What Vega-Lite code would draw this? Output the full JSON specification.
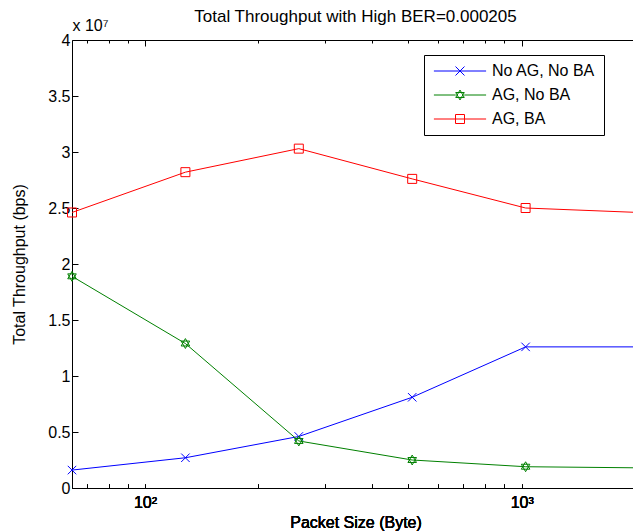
{
  "$schema": "https://vega.github.io/schema/vega-lite/v6.json",
  "width": 567,
  "height": 448,
  "autosize": {"type": "none"},
  "padding": {"left": 72, "top": 40, "right": 0, "bottom": 44},
  "background": "white",
  "config": {
    "font": "Liberation Sans",
    "view": {"stroke": null},
    "axis": {
      "domainColor": "black",
      "tickColor": "black",
      "labelColor": "black",
      "titleColor": "black",
      "labelFontSize": 16,
      "titleFontSize": 16,
      "titleFontWeight": "normal",
      "grid": false,
      "labelOverlap": false,
      "labelFlush": false
    },
    "legend": {
      "orient": "none",
      "legendX": 352,
      "legendY": 15,
      "title": null,
      "fillColor": "white",
      "strokeColor": "black",
      "padding": 8,
      "labelFontSize": 16,
      "labelColor": "black",
      "symbolSize": 81,
      "symbolStrokeWidth": 1,
      "symbolOpacity": 1,
      "symbolFillColor": "transparent",
      "symbolOffset": 20,
      "labelOffset": 24,
      "rowPadding": 8
    }
  },
  "title": {
    "text": "Total Throughput with High BER=0.000205",
    "fontSize": 17,
    "fontWeight": "normal",
    "anchor": "middle",
    "offset": 12,
    "dy": 21,
    "color": "black"
  },
  "data": {
    "values": [
      {"size": 64, "series": "No AG, No BA", "tp": 1600000},
      {"size": 128, "series": "No AG, No BA", "tp": 2700000},
      {"size": 256, "series": "No AG, No BA", "tp": 4600000},
      {"size": 512, "series": "No AG, No BA", "tp": 8100000},
      {"size": 1024, "series": "No AG, No BA", "tp": 12600000},
      {"size": 2048, "series": "No AG, No BA", "tp": 12600000},
      {"size": 64, "series": "AG, No BA", "tp": 18900000},
      {"size": 128, "series": "AG, No BA", "tp": 12900000},
      {"size": 256, "series": "AG, No BA", "tp": 4200000},
      {"size": 512, "series": "AG, No BA", "tp": 2500000},
      {"size": 1024, "series": "AG, No BA", "tp": 1900000},
      {"size": 2048, "series": "AG, No BA", "tp": 1800000},
      {"size": 64, "series": "AG, BA", "tp": 24600000},
      {"size": 128, "series": "AG, BA", "tp": 28200000},
      {"size": 256, "series": "AG, BA", "tp": 30300000},
      {"size": 512, "series": "AG, BA", "tp": 27600000},
      {"size": 1024, "series": "AG, BA", "tp": 25000000},
      {"size": 2048, "series": "AG, BA", "tp": 24600000}
    ]
  },
  "encoding": {
    "x": {
      "field": "size",
      "type": "quantitative",
      "scale": {"type": "log", "domain": [64, 2048], "nice": false},
      "axis": {
        "orient": "bottom",
        "title": "Packet Size (Byte)",
        "values": [70, 80, 90, 100, 200, 300, 400, 500, 600, 700, 800, 900, 1000, 2000],
        "labelExpr": "datum.value == 100 ? '10²' : (datum.value == 1000 ? '10³' : '')",
        "tickSize": -4,
        "labelPadding": 10,
        "titlePadding": 4
      }
    },
    "y": {
      "field": "tp",
      "type": "quantitative",
      "scale": {"domain": [0, 40000000], "nice": false},
      "axis": {
        "title": "Total Throughput (bps)",
        "values": [0, 5000000, 10000000, 15000000, 20000000, 25000000, 30000000, 35000000, 40000000],
        "labelExpr": "'' + (datum.value / 10000000)",
        "tickSize": -6,
        "labelPadding": 8,
        "titlePadding": 20
      }
    },
    "color": {
      "field": "series",
      "type": "nominal",
      "scale": {"domain": ["No AG, No BA", "AG, No BA", "AG, BA"], "range": ["#0000ff", "#008000", "#ff0000"]},
      "legend": {}
    }
  },
  "layer": [
    {
      "mark": {"type": "line", "strokeWidth": 1, "clip": true}
    },
    {
      "mark": {"type": "point", "filled": false, "strokeWidth": 1, "size": 81, "opacity": 0},
      "encoding": {
        "x": {
          "field": "size",
          "type": "quantitative",
          "scale": {"type": "log", "domain": [64, 2048], "nice": false},
          "axis": {
            "orient": "top",
            "title": "x 10⁷",
            "values": [70, 80, 90, 100, 200, 300, 400, 500, 600, 700, 800, 900, 1000, 2000],
            "labels": false,
            "tickSize": {"condition": {"test": "datum.value == 100 || datum.value == 1000", "value": -6}, "value": -3},
            "titleX": 0,
            "titleY": -7,
            "titleAlign": "left",
            "titleAnchor": "start",
            "titleFontSize": 16
          }
        },
        "shape": {
          "field": "series",
          "type": "nominal",
          "scale": {
            "domain": ["No AG, No BA", "AG, No BA", "AG, BA"],
            "range": [
              "M-5.8,0H5.8M-1,-1L1,1M-1,1L1,-1",
              "M-5.8,0H-0.95M0.95,0H5.8M0,-1.1L0.95,0.55L-0.95,0.55ZM0,1.1L0.95,-0.55L-0.95,-0.55Z",
              "M-5.8,0H5.8M-1,-1H1V1H-1Z"
            ]
          },
          "legend": {}
        }
      }
    },
    {
      "transform": [{"filter": "datum.series == 'No AG, No BA'"}],
      "mark": {"type": "point", "filled": false, "strokeWidth": 1, "size": 72, "opacity": 1, "shape": "M-1,-1L1,1M-1,1L1,-1"}
    },
    {
      "transform": [{"filter": "datum.series == 'AG, No BA'"}],
      "mark": {"type": "point", "filled": false, "strokeWidth": 1, "size": 81, "opacity": 1, "shape": "M0,-1.1L0.95,0.55L-0.95,0.55ZM0,1.1L0.95,-0.55L-0.95,-0.55Z"}
    },
    {
      "transform": [{"filter": "datum.series == 'AG, BA'"}],
      "mark": {"type": "point", "filled": false, "strokeWidth": 1, "size": 81, "opacity": 1, "shape": "M-1,-1H1V1H-1Z"}
    }
  ]
}
